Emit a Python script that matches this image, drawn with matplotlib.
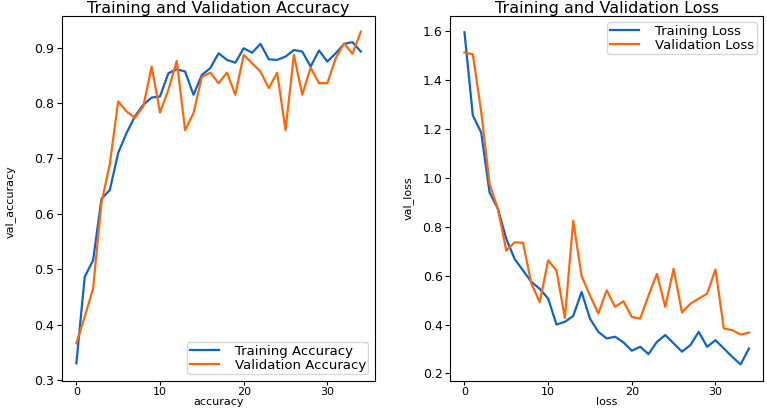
import matplotlib
matplotlib.use("Agg")
import matplotlib.pyplot as plt
from matplotlib.ticker import MultipleLocator

# -----------------------------
# Data (35 epochs)
# -----------------------------
epochs = list(range(35))

train_acc = [0.330, 0.486, 0.516, 0.627, 0.643, 0.710, 0.746, 0.776, 0.797, 0.810,
             0.812, 0.854, 0.861, 0.857, 0.815, 0.851, 0.863, 0.890, 0.878, 0.873,
             0.899, 0.891, 0.907, 0.879, 0.878, 0.884, 0.896, 0.893, 0.866, 0.895,
             0.875, 0.890, 0.907, 0.910, 0.893]
val_acc = [0.366, 0.414, 0.465, 0.620, 0.690, 0.803, 0.785, 0.773, 0.794, 0.866,
           0.783, 0.824, 0.876, 0.751, 0.782, 0.847, 0.855, 0.836, 0.855, 0.815,
           0.887, 0.872, 0.857, 0.827, 0.855, 0.751, 0.887, 0.815, 0.864, 0.836,
           0.836, 0.881, 0.908, 0.889, 0.929]

train_loss = [1.595, 1.255, 1.185, 0.940, 0.873, 0.750, 0.668, 0.621, 0.574, 0.546,
              0.506, 0.400, 0.411, 0.435, 0.533, 0.424, 0.370, 0.343, 0.350, 0.327,
              0.293, 0.309, 0.279, 0.329, 0.357, 0.323, 0.289, 0.316, 0.370, 0.309,
              0.336, 0.302, 0.268, 0.237, 0.302]
val_loss = [1.512, 1.505, 1.270, 0.975, 0.872, 0.702, 0.736, 0.734, 0.567, 0.492,
            0.662, 0.621, 0.427, 0.824, 0.598, 0.519, 0.445, 0.540, 0.472, 0.495,
            0.431, 0.424, 0.519, 0.607, 0.472, 0.628, 0.449, 0.485, 0.506, 0.526,
            0.625, 0.384, 0.377, 0.359, 0.367]

BLUE = "#0c64cc"
ORANGE = "#ff6608"

fig = plt.figure(figsize=(7.67, 4.11), dpi=100)
ax1 = fig.add_axes([0.081, 0.073, 0.408, 0.889])
ax2 = fig.add_axes([0.587, 0.073, 0.408, 0.889])

leg_kw = dict(fontsize=9.5, labelspacing=0.05, borderpad=0.2, handlelength=2.2,
              handletextpad=1.2)

# -----------------------------
# Accuracy
# -----------------------------
ax1.plot(epochs, train_acc, color=BLUE, lw=1.6, label="Training Accuracy")
ax1.plot(epochs, val_acc, color=ORANGE, lw=1.6, label="Validation Accuracy")
ax1.set_ylim(0.298, 0.958)
ax1.set_title("Training and Validation Accuracy", fontsize=11.5, pad=2)
ax1.set_ylabel("val_accuracy", fontsize=8)
ax1.yaxis.set_label_coords(-0.150, 0.49)
ax1.legend(loc="lower right", **leg_kw)

# -----------------------------
# Loss
# -----------------------------
ax2.plot(epochs, train_loss, color=BLUE, lw=1.6, label="Training Loss")
ax2.plot(epochs, val_loss, color=ORANGE, lw=1.6, label="Validation Loss")
ax2.set_title("Training and Validation Loss", fontsize=11.5, pad=2)
ax2.set_ylabel("val_loss", fontsize=8)
ax2.yaxis.set_label_coords(-0.118, 0.5)
ax2.legend(loc="upper right", **leg_kw)

for ax, name in ((ax1, "accuracy"), (ax2, "loss")):
    ax.set_xlabel(name, fontsize=8, va="bottom")
    ax.xaxis.set_label_coords(0.5, -0.071)
    ax.xaxis.set_major_locator(MultipleLocator(10))
    ax.tick_params(labelsize=9, pad=2)
    ax.tick_params(axis="x", labelsize=8, pad=1, length=3)

plt.savefig("out.png", dpi=100)
